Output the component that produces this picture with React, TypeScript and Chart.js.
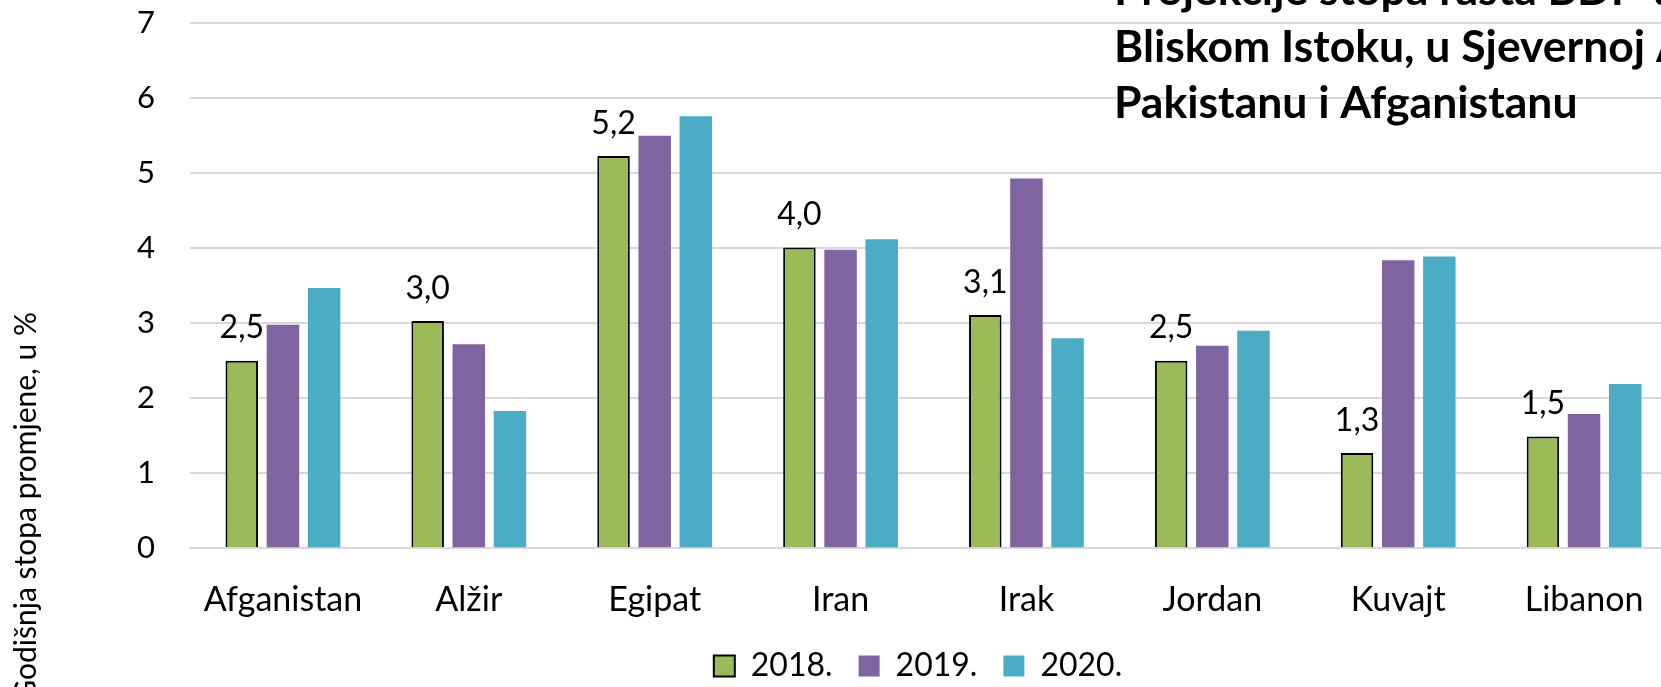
import { useEffect, useRef } from 'react';
import { Chart, registerables } from 'chart.js';

Chart.register(...registerables);

const categories = ['Afganistan', 'Alžir', 'Egipat', 'Iran', 'Irak', 'Jordan', 'Kuvajt', 'Libanon'];
const values2018 = [2.5, 3.03, 5.23, 4.01, 3.11, 2.5, 1.27, 1.49];
const values2019 = [2.98, 2.72, 5.5, 3.98, 4.93, 2.7, 3.84, 1.79];
const values2020 = [3.47, 1.83, 5.76, 4.12, 2.8, 2.9, 3.89, 2.19];
const seriesNames = ['2018.', '2019.', '2020.'];
const titleLines = ['Projekcije stopa rasta BDP-a u', 'Bliskom Istoku, u Sjevernoj Africi,', 'Pakistanu i Afganistanu'];
const yAxisTitle = 'Godišnja stopa promjene, u %';
const yMin = 0;
const yMax = 7;
const yStep = 1;

const FONT = "Lato, 'Noto Sans', sans-serif";
const CANVAS_W = 1836;
const CANVAS_H = 692;

const fmt = (v: number) => v.toFixed(1).replace('.', ',');

const labelPlugin = {
  id: 'labels2018',
  afterDatasetsDraw(chart: any) {
    const ctx = chart.ctx;
    const meta = chart.getDatasetMeta(0);
    ctx.save();
    ctx.font = `32px ${FONT}`;
    ctx.fillStyle = '#000';
    ctx.textAlign = 'center';
    ctx.textBaseline = 'alphabetic';
    meta.data.forEach((el: any, i: number) => {
      ctx.fillText(fmt(values2018[i]), el.x, el.y - 22.5);
    });
    ctx.restore();
  },
};

const textPlugin = {
  id: 'overlayText',
  afterDraw(chart: any) {
    const ctx = chart.ctx;
    ctx.save();
    ctx.fillStyle = '#000';
    ctx.font = `bold 44.5px ${FONT}`;
    ctx.textAlign = 'left';
    ctx.textBaseline = 'alphabetic';
    const baselines = [5, 61.7, 118.3];
    titleLines.forEach((line, i) => ctx.fillText(line, 1114, baselines[i]));
    ctx.restore();

    ctx.save();
    ctx.fillStyle = '#000';
    ctx.font = `30px ${FONT}`;
    ctx.translate(36, 312);
    ctx.rotate(-Math.PI / 2);
    ctx.textAlign = 'right';
    ctx.textBaseline = 'alphabetic';
    ctx.fillText(yAxisTitle, 0, 0);
    ctx.restore();
  },
};

export default function App() {
  const ref = useRef<HTMLCanvasElement | null>(null);

  useEffect(() => {
    if (!ref.current) return;
    const chart = new Chart(ref.current, {
      type: 'bar',
      data: {
        labels: categories,
        datasets: [
          {
            label: seriesNames[0],
            data: values2018,
            backgroundColor: '#9BBB59',
            borderColor: '#000000',
            borderWidth: 2,
            yAxisID: 'y',
          },
          {
            label: seriesNames[1],
            data: values2019,
            backgroundColor: '#8064A2',
            borderWidth: 0,
            yAxisID: 'y',
          },
          {
            label: seriesNames[2],
            data: values2020,
            backgroundColor: '#4BACC6',
            borderWidth: 0,
            yAxisID: 'y',
          },
        ],
      },
      options: {
        responsive: false,
        animation: false,
        devicePixelRatio: 1,
        events: [],
        datasets: {
          bar: {
            categoryPercentage: 0.664,
            barPercentage: 0.79,
          },
        },
        layout: {
          padding: { left: 0, right: 0, top: 23.3, bottom: 0 },
        },
        plugins: {
          legend: {
            position: 'bottom',
            labels: {
              font: { family: FONT, size: 32 },
              color: '#000',
              boxWidth: 21,
              boxHeight: 21,
              padding: 26,
            },
          },
          title: { display: false },
          tooltip: { enabled: false },
        },
        scales: {
          x: {
            grid: { display: false, drawTicks: false },
            border: { display: true, color: '#d9d9d9', width: 2 },
            ticks: {
              font: { family: FONT, size: 34 },
              color: '#000',
              padding: 31,
              maxRotation: 0,
              autoSkip: false,
            },
            afterFit(scale: any) {
              scale.height = 75.7;
            },
          },
          y: {
            type: 'linear',
            position: 'left',
            min: yMin,
            max: yMax,
            ticks: {
              stepSize: yStep,
              font: { family: FONT, size: 31 },
              color: '#000',
              padding: 0,
            },
            grid: {
              color: '#d9d9d9',
              lineWidth: 2,
              drawTicks: true,
              tickLength: 35,
              tickColor: 'rgba(0,0,0,0)',
            },
            border: { display: false },
            afterFit(scale: any) {
              scale.width = 190;
            },
          },
          yRight: {
            type: 'linear',
            position: 'right',
            display: true,
            ticks: { display: false },
            grid: { display: false, drawTicks: false },
            border: { display: false },
            afterFit(scale: any) {
              scale.width = 159;
            },
          },
        },
      },
      plugins: [labelPlugin, textPlugin],
    });
    return () => chart.destroy();
  }, []);

  return (
    <div
      style={{
        position: 'fixed',
        left: 0,
        top: 0,
        width: 1661,
        height: 687,
        overflow: 'hidden',
        background: '#fff',
      }}
    >
      <canvas ref={ref} width={CANVAS_W} height={CANVAS_H} style={{ display: 'block' }} />
    </div>
  );
}
